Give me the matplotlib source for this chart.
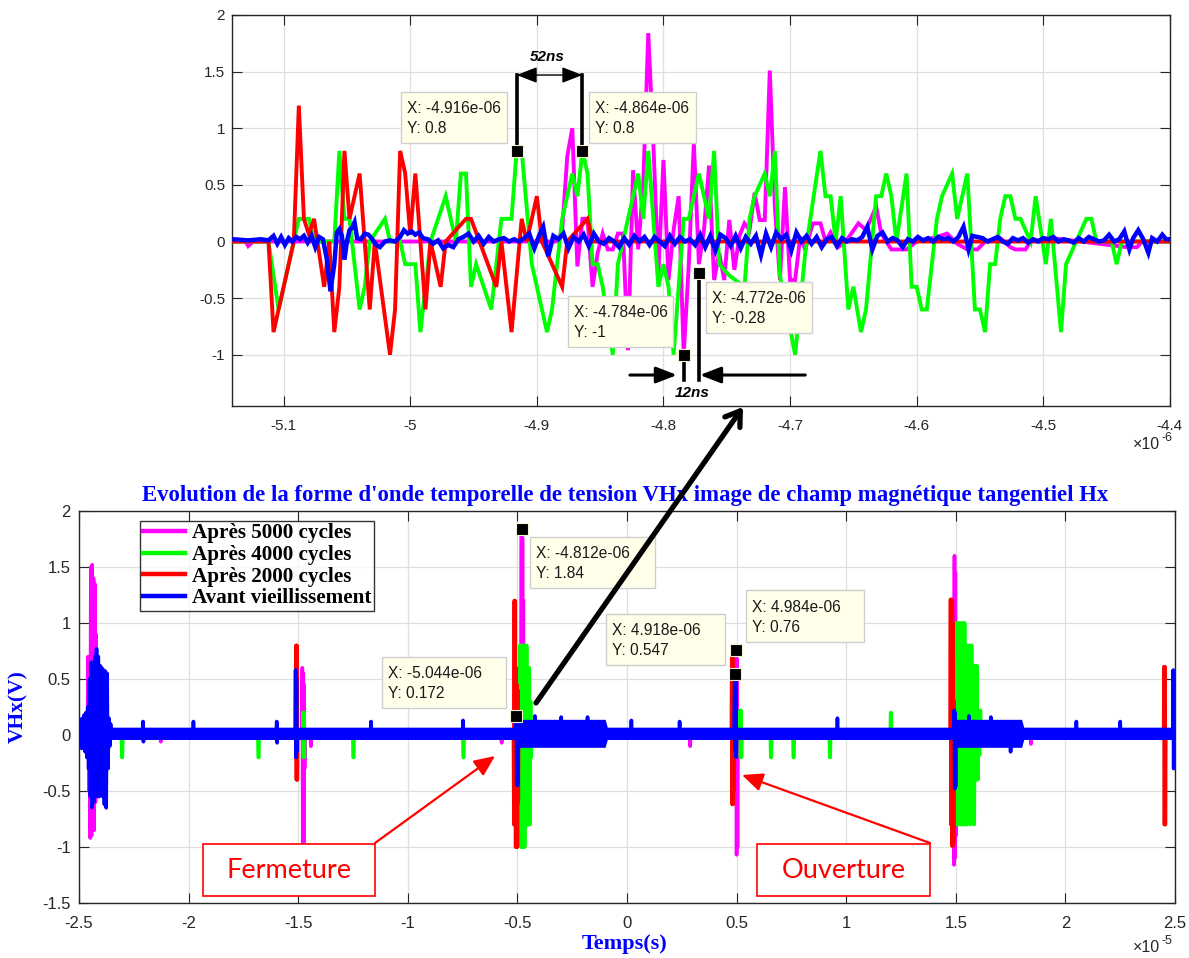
import matplotlib
matplotlib.use('Agg')
import matplotlib.pyplot as plt
from matplotlib.patches import Rectangle, FancyArrowPatch
from matplotlib.lines import Line2D
from matplotlib.ticker import FuncFormatter

W, H = 1189, 958

# ------------------------------------------------------------------ data
series_labels = ['Après 5000 cycles', 'Après 4000 cycles', 'Après 2000 cycles', 'Avant vieillissement']
series_colors = ['#ff00ff', '#00ff00', '#ff0000', '#0000ff']

# ---- zoomed view (time in microseconds)
mag_zoom_t = [-5.140, -5.130, -5.128, -5.124, -4.884, -4.880, -4.876, -4.872, -4.868, -4.864, -4.860,
              -4.856, -4.852, -4.848, -4.844, -4.840, -4.836, -4.832, -4.828, -4.824, -4.820, -4.816,
              -4.812, -4.808, -4.804, -4.800, -4.796, -4.792, -4.788, -4.784, -4.780, -4.776, -4.772,
              -4.768, -4.764, -4.760, -4.756, -4.752, -4.748, -4.744, -4.740, -4.736, -4.732, -4.728,
              -4.724, -4.720, -4.716, -4.712, -4.708, -4.704, -4.700, -4.696, -4.692, -4.688, -4.682,
              -4.676, -4.672, -4.668, -4.662, -4.656, -4.646, -4.640, -4.632, -4.628, -4.620, -4.608,
              -4.600, -4.584, -4.576, -4.568, -4.560, -4.552, -4.546, -4.534, -4.526, -4.522, -4.514,
              -4.510, -4.494, -4.470, -4.434, -4.426, -4.422, -4.400]
mag_zoom_v = [0.0, 0.0, -0.04, 0.0, 0.0, 0.1, 0.75, 1.0, -0.22, 0.2, 0.2,
              -0.4, -0.1, 0.07, -0.07, -0.07, 0.07, 0.07, -0.96, 0.63, -0.07, 0.5,
              1.84, 0.87, -0.28, 0.72, -0.34, 0.1, 0.4, -1.0, -0.2, 0.87, -0.2,
              0.1, 0.67, -0.34, -0.1, -0.34, 0.19, -0.25, 0.05, 0.16, 0.1, 0.43,
              0.19, 0.19, 1.51, 0.3, -0.34, 0.48, -0.34, -0.34, 0.04, -0.07, 0.16,
              0.16, 0.0, 0.08, -0.05, 0.0, 0.16, 0.1, 0.31, 0.07, -0.07, -0.07,
              0.0, 0.04, 0.07, -0.02, -0.07, -0.07, 0.0, 0.03, -0.05, -0.07, -0.07,
              0.0, 0.03, 0.0, -0.05, -0.05, 0.0, 0.0]

green_zoom_t = [-5.140, -5.112, -5.104, -5.100, -5.088, -5.080, -5.076, -5.060, -5.056, -5.052, -5.048,
                -5.040, -5.036, -5.032, -5.020, -5.016, -5.008, -5.004, -4.996, -4.992, -4.984, -4.972,
                -4.964, -4.960, -4.956, -4.952, -4.948, -4.936, -4.928, -4.920, -4.916, -4.912, -4.904,
                -4.892, -4.888, -4.880, -4.876, -4.872, -4.868, -4.864, -4.860, -4.856, -4.852, -4.848,
                -4.840, -4.836, -4.824, -4.820, -4.816, -4.812, -4.804, -4.800, -4.796, -4.792, -4.784,
                -4.780, -4.772, -4.764, -4.760, -4.756, -4.748, -4.736, -4.732, -4.728, -4.720, -4.716,
                -4.712, -4.708, -4.696, -4.688, -4.676, -4.672, -4.668, -4.664, -4.660, -4.654, -4.650,
                -4.644, -4.640, -4.632, -4.628, -4.624, -4.620, -4.616, -4.608, -4.604, -4.600, -4.596,
                -4.592, -4.584, -4.580, -4.572, -4.568, -4.560, -4.554, -4.550, -4.546, -4.542, -4.538,
                -4.534, -4.530, -4.526, -4.522, -4.518, -4.510, -4.506, -4.498, -4.494, -4.486, -4.482,
                -4.474, -4.466, -4.462, -4.458, -4.446, -4.442, -4.438, -4.400]
green_zoom_v = [0.0, 0.0, -0.6, -0.4, 0.2, 0.2, 0.0, 0.0, 0.8, 0.2, 0.2,
                -0.6, -0.4, 0.0, 0.2, 0.0, 0.0, -0.2, -0.2, -0.8, 0.0, 0.4,
                0.0, 0.6, 0.6, -0.4, -0.2, -0.6, 0.2, 0.2, 0.8, 0.8, -0.2,
                -0.8, -0.6, 0.2, 0.4, 0.6, 0.4, 0.8, 0.6, -0.2, -0.2, -0.4,
                -1.0, -0.2, 0.4, 0.6, 0.2, 0.8, -0.4, -0.2, -0.4, -1.0, 0.2,
                0.2, 0.6, 0.2, 0.8, -0.2, -0.3, -0.4, 0.2, 0.4, 0.6, 0.4,
                0.8, -0.3, -1.0, -0.1, 0.8, 0.4, 0.4, 0.0, 0.4, -0.6, -0.4,
                -0.8, -0.6, 0.4, 0.4, 0.6, 0.4, 0.0, 0.6, -0.4, -0.4, -0.6,
                -0.6, 0.2, 0.4, 0.6, 0.2, 0.6, -0.6, -0.6, -0.8, -0.2, -0.2,
                0.2, 0.4, 0.4, 0.2, 0.2, 0.0, 0.4, -0.2, 0.2, -0.8, -0.2,
                0.0, 0.2, 0.2, 0.0, 0.0, -0.2, 0.0, 0.0]

red_zoom_t = [-5.140, -5.112, -5.108, -5.104, -5.092, -5.088, -5.084, -5.080, -5.076, -5.068, -5.064,
              -5.060, -5.056, -5.052, -5.048, -5.040, -5.032, -5.028, -5.016, -5.012, -5.008, -5.004,
              -5.000, -4.996, -4.988, -4.984, -4.976, -4.972, -4.956, -4.952, -4.932, -4.928, -4.920,
              -4.912, -4.908, -4.900, -4.896, -4.880, -4.876, -4.860, -4.856, -4.400]
red_zoom_v = [0.0, 0.0, -0.8, -0.6, 0.0, 1.2, 0.2, 0.06, 0.2, -0.4, 0.0,
              -0.8, -0.4, 0.8, 0.2, 0.6, -0.6, 0.0, -1.0, -0.6, 0.8, 0.6,
              0.06, 0.6, -0.6, 0.0, -0.4, 0.0, 0.2, 0.2, -0.4, 0.0, -0.8,
              0.2, 0.0, 0.4, 0.0, -0.4, 0.0, 0.2, 0.0, 0.0]

blue_zoom_t = [-5.140, -5.128, -5.118, -5.112, -5.108, -5.105, -5.102, -5.099, -5.096, -5.093, -5.090,
               -5.087, -5.084, -5.081, -5.078, -5.075, -5.072, -5.069, -5.066, -5.063, -5.060, -5.058,
               -5.056, -5.054, -5.052, -5.050, -5.048, -5.046, -5.044, -5.042, -5.039, -5.036, -5.033,
               -5.030, -5.027, -5.024, -5.020, -5.016, -5.012, -5.008, -5.005, -5.002, -4.999, -4.996,
               -4.993, -4.990, -4.986, -4.982, -4.978, -4.974, -4.970, -4.966, -4.962, -4.958, -4.954,
               -4.950, -4.946, -4.942, -4.938, -4.934, -4.930, -4.926, -4.922, -4.918, -4.914, -4.910,
               -4.906, -4.902, -4.898, -4.895, -4.891, -4.887, -4.883, -4.879, -4.875, -4.871, -4.867,
               -4.863, -4.859, -4.855, -4.851, -4.847, -4.843, -4.839, -4.835, -4.831, -4.827, -4.823,
               -4.819, -4.815, -4.811, -4.807, -4.803, -4.799, -4.795, -4.791, -4.787, -4.783, -4.779,
               -4.775, -4.771, -4.767, -4.763, -4.759, -4.755, -4.751, -4.747, -4.743, -4.739, -4.735,
               -4.731, -4.727, -4.723, -4.719, -4.715, -4.711, -4.707, -4.703, -4.699, -4.695, -4.691,
               -4.687, -4.683, -4.679, -4.675, -4.671, -4.667, -4.663, -4.659, -4.655, -4.651, -4.647,
               -4.643, -4.639, -4.635, -4.631, -4.627, -4.623, -4.619, -4.615, -4.611, -4.607, -4.603,
               -4.599, -4.595, -4.591, -4.587, -4.583, -4.579, -4.575, -4.571, -4.567, -4.563, -4.559,
               -4.556, -4.552, -4.548, -4.544, -4.540, -4.536, -4.532, -4.528, -4.524, -4.520, -4.516,
               -4.512, -4.508, -4.504, -4.500, -4.496, -4.492, -4.488, -4.484, -4.480, -4.476, -4.472,
               -4.468, -4.464, -4.460, -4.456, -4.452, -4.448, -4.444, -4.440, -4.436, -4.432, -4.429,
               -4.425, -4.421, -4.417, -4.414, -4.410, -4.406, -4.403, -4.400]
blue_zoom_v = [0.02, 0.01, 0.02, 0.01, 0.05, -0.02, 0.04, -0.03, 0.03, 0.00, 0.04,
               0.02, 0.05, -0.01, 0.05, -0.05, 0.04, 0.02, -0.15, -0.44, -0.20, 0.08,
               0.11, 0.05, -0.16, 0.00, 0.10, 0.12, 0.17, 0.03, 0.02, 0.07, 0.06,
               0.02, -0.03, -0.05, 0.00, 0.01, 0.00, 0.04, 0.10, 0.07, 0.09, 0.06,
               0.08, 0.03, 0.02, -0.02, 0.01, -0.06, -0.03, -0.05, 0.02, 0.04, 0.07,
               0.00, 0.05, -0.02, 0.04, 0.00, 0.02, 0.03, 0.00, 0.02, 0.00, 0.03,
               0.07, -0.06, 0.06, 0.13, -0.13, 0.05, 0.02, 0.07, -0.06, 0.04, 0.00,
               0.06, -0.04, 0.07, 0.00, -0.02, 0.03, 0.00, -0.05, 0.03, -0.03, 0.05,
               0.00, 0.04, -0.03, 0.04, 0.00, -0.04, 0.05, -0.02, 0.04, 0.00, 0.02,
               -0.03, 0.06, -0.05, 0.05, -0.08, 0.06, 0.03, -0.04, 0.05, -0.06, 0.04,
               -0.02, 0.05, -0.12, 0.07, -0.05, 0.08, 0.02, 0.06, -0.08, 0.08, 0.00,
               0.05, -0.02, 0.04, -0.05, 0.02, 0.04, -0.04, 0.03, 0.00, 0.02, 0.01,
               0.04, 0.13, -0.07, 0.05, 0.08, 0.00, 0.03, 0.01, -0.05, 0.02, 0.00,
               0.04, 0.01, 0.03, 0.00, 0.04, 0.02, 0.03, 0.00, 0.04, 0.13, -0.07,
               0.05, 0.04, 0.03, 0.00, 0.02, 0.04, 0.00, -0.02, 0.03, 0.01, 0.03,
               -0.01, 0.02, 0.00, 0.03, 0.02, 0.04, 0.00, 0.02, 0.01, -0.01, 0.03,
               0.00, 0.04, 0.02, 0.00, 0.01, 0.06, 0.00, 0.02, 0.09, -0.07, 0.03,
               0.10, 0.02, -0.10, 0.03, 0.00, 0.06, 0.02, 0.02]

zoom_xticks = [-5.1, -5.0, -4.9, -4.8, -4.7, -4.6, -4.5, -4.4]
zoom_yticks = [-1.0, -0.5, 0.0, 0.5, 1.0, 1.5, 2.0]

# data tips (seconds, volts)
tip_zoom_x = [-4.916e-06, -4.864e-06, -4.784e-06, -4.772e-06]
tip_zoom_y = [0.8, 0.8, -1.0, -0.28]

# ---- full view (time in units of 1e-5 s)
mag_full_t = [-2.500, -2.462, -2.458, -2.455, -2.452, -2.449, -2.446, -2.443, -2.440, -2.437, -2.434,
              -2.431, -2.428, -2.425, -2.422, -2.419, -2.416, -2.412, -2.130, -2.127, -2.124, -1.484,
              -1.481, -1.479, -1.477, -1.475, -1.473, -1.471, -1.468, -1.445, -1.442, -1.439, -0.575,
              -0.572, -0.569, -0.490, -0.487, -0.485, -0.4812, -0.479, -0.477, -0.475, -0.473, -0.471,
              -0.469, -0.466, 0.285, 0.288, 0.291, 0.493, 0.4984, 0.500, 0.502, 0.504, 0.506,
              0.508, 1.488, 1.490, 1.492, 1.494, 1.496, 1.498, 1.500, 1.502, 1.504, 1.506,
              1.840, 1.843, 1.846, 2.500]
mag_full_v = [0.0, 0.0, 0.70, -0.50, 0.68, -0.92, 1.50, -0.90, 1.52, -0.80, 1.40,
              -0.85, 1.35, -0.60, 0.90, -0.40, 0.30, 0.0, 0.0, -0.06, 0.0, 0.0,
              0.60, -0.98, 0.55, -0.96, 0.45, -0.30, 0.0, 0.0, -0.10, 0.0, 0.0,
              -0.07, 0.0, 0.0, 0.50, -0.60, 1.84, -0.80, 1.76, -0.50, 1.20, -0.30,
              0.30, 0.0, 0.0, -0.10, 0.0, 0.0, 0.76, -1.07, 0.68, -1.00, 0.20,
              0.0, 0.0, 1.00, -1.16, 1.60, -1.10, 1.45, -0.90, 0.50, -0.20, 0.0,
              0.0, -0.08, 0.0, 0.0]

green_full_t = [-2.500, -2.306, -2.304, -2.302, -2.300, -1.684, -1.682, -1.680, -1.678, -1.480, -1.478,
                -1.476, -1.474, -1.472, -1.470, -1.251, -1.249, -1.247, -1.245, -0.749, -0.747, -0.745,
                -0.743, -0.490, -0.488, -0.485, -0.482, -0.479, -0.476, -0.473, -0.470, -0.467, -0.464,
                -0.461, -0.458, -0.455, -0.452, -0.449, -0.446, -0.443, -0.440, -0.437, -0.434, 0.514,
                0.516, 0.518, 0.520, 0.522, 0.524, 0.654, 0.656, 0.658, 0.660, 0.757, 0.759,
                0.761, 0.763, 0.923, 0.925, 0.927, 0.929, 1.201, 1.203, 1.205, 1.207, 1.496,
                1.500, 1.504, 1.508, 1.512, 1.516, 1.520, 1.524, 1.528, 1.532, 1.536, 1.540,
                1.544, 1.548, 1.552, 1.556, 1.560, 1.564, 1.568, 1.572, 1.576, 1.580, 1.584,
                1.588, 1.592, 1.596, 1.600, 1.604, 1.608, 1.612, 1.616, 2.500]
green_full_v = [0.0, 0.0, -0.20, -0.20, 0.0, 0.0, -0.20, -0.20, 0.0, 0.0, 0.20,
                -0.20, 0.20, -0.20, 0.0, 0.0, -0.20, -0.20, 0.0, 0.0, -0.20, -0.20,
                0.0, 0.0, 0.80, -1.00, 0.80, -1.00, 0.80, -1.00, 0.80, -1.00, 0.80,
                -0.80, 0.80, -0.80, 0.60, -0.80, 0.60, -0.80, 0.30, -0.20, 0.0, 0.0,
                0.22, -0.20, 0.22, -0.20, 0.0, 0.0, -0.20, -0.20, 0.0, 0.0, -0.20,
                -0.20, 0.0, 0.0, -0.20, -0.20, 0.0, 0.0, 0.20, 0.20, 0.0, 0.0,
                1.00, -0.80, 1.00, -0.80, 1.00, -0.80, 1.00, -0.80, 1.00, -0.80, 1.00,
                -0.80, 0.80, -0.80, 0.80, -0.62, 0.80, -0.80, 0.80, -0.62, 0.62, -0.80,
                0.62, -0.40, 0.62, -0.40, 0.22, -0.18, 0.22, 0.0, 0.0]

red_full_t = [-2.500, -1.512, -1.510, -1.508, -1.506, -1.504, -1.502, -0.518, -0.516, -0.514, -0.512,
              -0.510, -0.508, -0.506, -0.504, -0.502, -0.500, -0.498, -0.496, -0.494, -0.492, 0.476,
              0.478, 0.480, 0.482, 0.484, 0.486, 0.488, 0.490, 1.474, 1.476, 1.478, 1.480,
              1.482, 1.484, 1.486, 1.488, 1.490, 1.492, 1.494, 2.448, 2.450, 2.452, 2.454,
              2.456, 2.458, 2.500]
red_full_v = [0.0, 0.0, 0.80, -0.40, 0.80, -0.40, 0.0, 0.0, -0.80, 1.20, -0.80,
              1.20, -1.00, 0.60, -1.00, 0.45, -1.00, 0.40, -0.60, 0.20, 0.0, 0.0,
              0.69, -0.62, 0.69, -0.62, 0.60, -0.50, 0.0, 0.0, 1.21, -0.80, 1.21,
              -0.99, 1.21, -0.99, 1.00, -0.95, 0.30, 0.0, 0.0, 0.61, -0.80, 0.61,
              -0.80, 0.0, 0.0]

blue_full_t = [-2.500, -2.496, -2.492, -2.488, -2.484, -2.480, -2.476, -2.472, -2.468, -2.464, -2.460,
               -2.456, -2.452, -2.448, -2.444, -2.440, -2.436, -2.432, -2.428, -2.424, -2.420, -2.416,
               -2.412, -2.408, -2.404, -2.400, -2.396, -2.392, -2.388, -2.384, -2.380, -2.376, -2.372,
               -2.368, -2.364, -2.360, -2.356, -2.352, -2.210, -2.208, -2.206, -2.204, -1.980, -1.978,
               -1.976, -1.600, -1.598, -1.596, -1.594, -1.514, -1.512, -1.510, -1.508, -1.506, -1.504,
               -1.170, -1.168, -1.166, -0.750, -0.748, -0.746, -0.508, -0.5044, -0.503, -0.501, -0.499,
               -0.497, -0.494, -0.422, -0.420, -0.418, -0.302, -0.300, -0.298, -0.182, -0.180, -0.178,
               0.018, 0.020, 0.022, 0.238, 0.240, 0.242, 0.488, 0.4918, 0.494, 0.496, 0.498,
               0.500, 0.958, 0.960, 0.962, 1.490, 1.493, 1.495, 1.497, 1.499, 1.501, 1.558,
               1.560, 1.562, 1.658, 1.660, 1.662, 1.748, 1.750, 1.752, 2.048, 2.050, 2.052,
               2.248, 2.250, 2.252, 2.490, 2.492, 2.494, 2.496, 2.498, 2.500]
blue_full_v = [0.12, -0.10, 0.14, -0.12, 0.15, -0.10, 0.18, -0.15, 0.20, -0.20, 0.25,
               -0.30, 0.50, -0.55, 0.65, -0.65, 0.60, -0.60, 0.70, -0.50, 0.77, -0.55,
               0.70, -0.55, 0.62, -0.50, 0.60, -0.55, 0.58, -0.62, 0.57, -0.65, 0.55,
               -0.30, 0.15, -0.10, 0.10, 0.02, 0.02, 0.12, -0.06, 0.02, 0.02, 0.12,
               0.02, 0.02, 0.12, -0.07, 0.02, 0.02, 0.58, -0.20, 0.50, -0.15, 0.02,
               0.02, 0.12, 0.02, 0.02, 0.13, 0.02, 0.02, 0.172, -0.45, 0.12, -0.45,
               0.10, 0.02, 0.02, 0.17, 0.02, 0.02, 0.16, 0.02, 0.02, 0.16, 0.02,
               0.02, 0.13, 0.02, 0.02, 0.12, 0.02, 0.02, 0.547, -0.14, 0.50, -0.20,
               0.02, 0.02, 0.15, 0.02, 0.02, 0.22, -0.48, 0.20, -0.46, 0.10, 0.02,
               0.17, 0.02, 0.02, 0.16, 0.02, 0.02, -0.15, 0.02, 0.02, 0.12, 0.02,
               0.02, 0.12, 0.02, 0.02, 0.58, -0.30, 0.55, -0.25, 0.02]

# envelope of the dense blue noise band (full view)
blue_band_t = [-2.50, -0.51, -0.50, -0.10, -0.09, 1.49, 1.50, 1.80, 1.81, 2.50]
blue_band_lo = [-0.04, -0.04, -0.11, -0.11, -0.04, -0.04, -0.11, -0.11, -0.04, -0.04]
blue_band_hi = [0.07, 0.07, 0.14, 0.14, 0.07, 0.07, 0.14, 0.14, 0.07, 0.07]

full_xticks = [-2.5, -2.0, -1.5, -1.0, -0.5, 0.0, 0.5, 1.0, 1.5, 2.0, 2.5]
full_yticks = [-1.5, -1.0, -0.5, 0.0, 0.5, 1.0, 1.5, 2.0]

tip_full_x = [-4.812e-06, -5.044e-06, 4.918e-06, 4.984e-06]
tip_full_y = [1.84, 0.172, 0.547, 0.76]

title_text = "Evolution de la forme d'onde temporelle de tension VHx image de champ magnétique tangentiel Hx"

# ------------------------------------------------------------------ helpers
def fx(px):
    return px / W


def fy(py):
    return 1 - py / H


SANS = 'Liberation Sans'
SERIF = 'Liberation Serif'
AXCOL = '#262626'

fig = plt.figure(figsize=(W / 100, H / 100), dpi=100)
fig.patch.set_facecolor('white')

ax1 = fig.add_axes([fx(232), fy(406), fx(1170) - fx(232), fy(15) - fy(406)])
ax2 = fig.add_axes([fx(79), fy(903), fx(1175) - fx(79), fy(511) - fy(903)])

fmt = FuncFormatter(lambda v, p: ('%g' % round(v, 6)))


def style_axes(ax, xt, yt, lsize, xpad, ypad):
    ax.set_xticks(xt)
    ax.set_yticks(yt)
    ax.xaxis.set_major_formatter(fmt)
    ax.yaxis.set_major_formatter(fmt)
    ax.tick_params(direction='in', length=7, width=0.8, top=True, right=True,
                   colors=AXCOL, labelsize=lsize)
    ax.tick_params(axis='x', pad=xpad)
    ax.tick_params(axis='y', pad=ypad)
    for lab in ax.get_xticklabels() + ax.get_yticklabels():
        lab.set_fontfamily(SANS)
    for s in ax.spines.values():
        s.set_color(AXCOL)
        s.set_linewidth(1.0)
    ax.grid(True, color='#dfdfdf', linewidth=0.9)
    ax.set_axisbelow(True)


# ---- top (zoomed) axes
zoom_series = [(mag_zoom_t, mag_zoom_v), (green_zoom_t, green_zoom_v),
               (red_zoom_t, red_zoom_v), (blue_zoom_t, blue_zoom_v)]
for i, (t, v) in enumerate(zoom_series):
    ax1.plot(t, v, color=series_colors[i], lw=3.2 if i == 3 else 2.8, zorder=2 + i,
             solid_joinstyle='miter')
ax1.set_xlim(-5.1408, -4.3999)
ax1.set_ylim(-1.4525, 2.0)
style_axes(ax1, zoom_xticks, zoom_yticks, 11, 9, 5)

tx1 = [x * 1e6 for x in tip_zoom_x]
ax1.plot(tx1, tip_zoom_y, ls='none', marker='s', ms=8.5, mfc='black', mec='#f5f0d0',
         mew=0.8, zorder=20, clip_on=False)

# 52ns annotation
for x, y in zip(tx1[:2], tip_zoom_y[:2]):
    ax1.plot([x, x], [y + 0.04, 1.47], color='black', lw=2.6, zorder=19, clip_on=False)
ax1.annotate('', xy=(tx1[1], 1.47), xytext=(tx1[0], 1.47),
             arrowprops=dict(arrowstyle='<|-|>,head_length=0.9,head_width=0.35', color='black',
                             lw=1.0, shrinkA=0, shrinkB=0, mutation_scale=14), zorder=19)
ax1.text(-4.892, 1.63, '52ns', ha='center', va='center', fontsize=11, fontweight='bold',
         fontstyle='italic', fontfamily=SANS, zorder=19)
# 12ns annotation
for x, y in zip(tx1[2:], tip_zoom_y[2:]):
    ax1.plot([x, x], [y, -1.22], color='black', lw=2.6, zorder=19, clip_on=False)
ax1.annotate('', xy=(-4.7893, -1.179), xytext=(-4.8265, -1.179),
             arrowprops=dict(arrowstyle='-|>,head_length=0.9,head_width=0.35', color='black',
                             lw=2.2, shrinkA=0, shrinkB=0, mutation_scale=14), zorder=19)
ax1.annotate('', xy=(-4.7712, -1.179), xytext=(-4.688, -1.179),
             arrowprops=dict(arrowstyle='-|>,head_length=0.9,head_width=0.35', color='black',
                             lw=2.2, shrinkA=0, shrinkB=0, mutation_scale=14), zorder=19)
ax1.text(-4.7775, -1.338, '12ns', ha='center', va='center', fontsize=11, fontweight='bold',
         fontstyle='italic', fontfamily=SANS, zorder=19)

# ---- bottom (full) axes
ax2.fill_between(blue_band_t, blue_band_lo, blue_band_hi, color=series_colors[3], lw=0, zorder=5.5)
full_series = [(mag_full_t, mag_full_v), (green_full_t, green_full_v),
               (red_full_t, red_full_v), (blue_full_t, blue_full_v)]
for i, (t, v) in enumerate(full_series):
    ax2.plot(t, v, color=series_colors[i], lw=2.6, zorder=2 + i + (1.5 if i == 3 else 0))
ax2.set_xlim(-2.5, 2.5)
ax2.set_ylim(-1.5, 2.0)
style_axes(ax2, full_xticks, full_yticks, 12, 9, 6)

tx2 = [x * 1e5 for x in tip_full_x]
ax2.plot(tx2, tip_full_y, ls='none', marker='s', ms=8.5, mfc='black', mec='#f5f0d0',
         mew=0.8, zorder=20, clip_on=False)

handles = [Line2D([], [], color=c, lw=3.2) for c in series_colors]
leg = ax2.legend(handles, series_labels, loc='upper left', bbox_to_anchor=(0.0561, 0.9753),
                 borderaxespad=0, frameon=True, fancybox=False, handlelength=2.0,
                 handletextpad=0.33, labelspacing=0.08, borderpad=0.12,
                 prop=dict(family=SERIF, weight='bold', size=15.2))
leg.get_frame().set_edgecolor('black')
leg.get_frame().set_linewidth(1.0)
leg.set_zorder(25)

# ---- figure-level texts
fig.text(fx(625.5), fy(496), title_text, ha='center', va='center', color='#0000ff',
         fontsize=16.4, fontweight='bold', fontfamily=SERIF)
fig.text(fx(625), fy(944), 'Temps(s)', ha='center', va='center', color='#0000ff',
         fontsize=16, fontweight='bold', fontfamily=SERIF)
fig.text(fx(18), fy(707), 'VHx(V)', ha='center', va='center', rotation=90, color='#0000ff',
         fontsize=15.5, fontweight='bold', fontfamily=SERIF)

for (xr, yb, exp) in [(1160, 449, '-6'), (1160, 952, '-5')]:
    fig.text(fx(xr), fy(yb), '\u00d710', ha='right', va='baseline', fontsize=11.5,
             fontfamily=SANS, color=AXCOL)
    fig.text(fx(xr + 1), fy(yb - 8), exp, ha='left', va='baseline', fontsize=9,
             fontfamily=SANS, color=AXCOL)


# ---- data tip boxes
def tip_box(box, x, y):
    x0, y0, x1, y1 = box
    h = y1 - y0
    rect = Rectangle((fx(x0), fy(y1)), fx(x1) - fx(x0), fy(y0) - fy(y1),
                     transform=fig.transFigure, facecolor='#ffffea', edgecolor='#cfcfcf',
                     lw=1.0, zorder=30)
    fig.add_artist(rect)
    for k, s in enumerate(['X: %.4g' % x, 'Y: %.4g' % y]):
        t = fig.text(fx(x0 + 6), fy(y0 + h * (0.33 if k == 0 else 0.72)), s, ha='left',
                     va='center', fontsize=11.2, fontfamily=SANS, color='#1a1a1a')
        t.set_zorder(31)


zoom_boxes = [(401, 92, 507, 143), (589, 92, 696, 143), (568, 296, 673, 347), (706, 282, 812, 333)]
full_boxes = [(530, 537, 655, 588), (382, 657, 506, 708), (606, 614, 725, 665), (746, 590, 864, 642)]
for b, x, y in zip(zoom_boxes, tip_zoom_x, tip_zoom_y):
    tip_box(b, x, y)
for b, x, y in zip(full_boxes, tip_full_x, tip_full_y):
    tip_box(b, x, y)

# ---- big black link arrow
arr = FancyArrowPatch((fx(536), fy(703)), (fx(743), fy(407)), transform=fig.transFigure,
                      arrowstyle='->,head_length=0.45,head_width=0.3', mutation_scale=22,
                      color='black', lw=3.8, shrinkA=0, shrinkB=0, zorder=40)
fig.add_artist(arr)

# ---- red labelled boxes
for (x0, y0, x1, y1, label, tail, tip) in [
        (203, 844, 375, 896, 'Fermeture', (375, 843), (495, 756)),
        (757, 844, 930, 896, 'Ouverture', (930, 843), (742, 775))]:
    rect = Rectangle((fx(x0), fy(y1)), fx(x1) - fx(x0), fy(y0) - fy(y1),
                     transform=fig.transFigure, facecolor='white', edgecolor='#ff0000',
                     lw=1.2, zorder=35)
    fig.add_artist(rect)
    t = fig.text(fx((x0 + x1) / 2), fy((y0 + y1) / 2 + 1), label, ha='center', va='center',
                 fontsize=19.5, fontfamily='Lato', color='#ff0000')
    t.set_zorder(36)
    a = FancyArrowPatch((fx(tail[0]), fy(tail[1])), (fx(tip[0]), fy(tip[1])),
                        transform=fig.transFigure,
                        arrowstyle='-|>,head_length=0.9,head_width=0.4', mutation_scale=14,
                        color='#ff0000', lw=1.6, shrinkA=0, shrinkB=0, zorder=36)
    fig.add_artist(a)

fig.savefig('out.png', dpi=100)
